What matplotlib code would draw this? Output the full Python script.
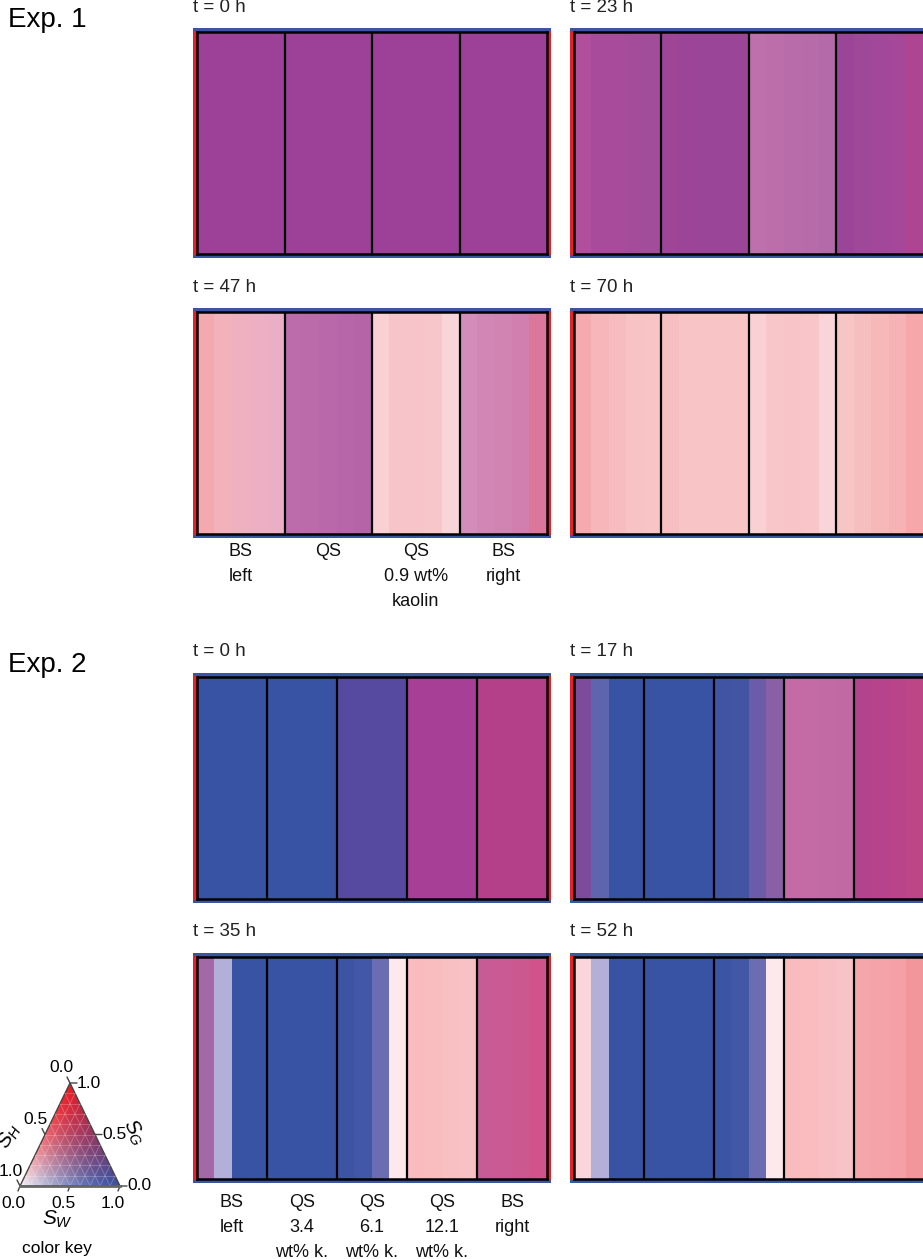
import numpy as np
import matplotlib
matplotlib.use("Agg")
import matplotlib.pyplot as plt
from matplotlib.colors import to_rgb
from matplotlib.patches import Rectangle, Polygon

plt.rcParams['font.family'] = ['Liberation Sans', 'DejaVu Sans']
plt.rcParams['mathtext.fontset'] = 'custom'
plt.rcParams['mathtext.it'] = 'Liberation Sans:italic'
plt.rcParams['mathtext.rm'] = 'Liberation Sans'

W, H = 923, 1259

# ---------------- data: colours of each grid column (20 per panel) ----------------
exp1_titles = ["t = 0 h", "t = 23 h", "t = 47 h", "t = 70 h"]
exp1_labels = ["BS\nleft", "QS", "QS\n0.9 wt%\nkaolin", "BS\nright"]
exp1_t0 = ["#9c4197"] * 20
exp1_t23 = ["#b24f9c", "#a94b9b", "#a64c9b", "#a34c9a", "#a24d9a",
            "#9e4598", "#9c4598", "#9b4598", "#9b4598", "#9b4597",
            "#be70ab", "#bc6eab", "#b96caa", "#b76ba9", "#b46aa8",
            "#9b4598", "#9f4799", "#a2489a", "#a5489a", "#ae4592"]
exp1_t47 = ["#f4a9ae", "#f3b1bc", "#efb0c0", "#edafc3", "#eaaec5",
            "#bd6cab", "#bb6aaa", "#b968aa", "#b767a9", "#b465a8",
            "#f9d0d3", "#f7c5c9", "#f7c5c9", "#f7c6ca", "#f8d5d9",
            "#d48cba", "#d187b5", "#cf84b2", "#d07fae", "#db779b"]
exp1_t70 = ["#f5aab0", "#f6b6ba", "#f7bcbf", "#f8c3c5", "#f8c4c6",
            "#f7bfc1", "#f8c4c6", "#f8c4c6", "#f8c4c6", "#f8c4c6",
            "#f9d0d3", "#f8c6c8", "#f8c4c7", "#f8c6c9", "#f9d5d9",
            "#f8c5c5", "#f7bebf", "#f7b8ba", "#f6b2b4", "#f5a7a9"]

exp2_titles = ["t = 0 h", "t = 17 h", "t = 35 h", "t = 52 h"]
exp2_labels = ["BS\nleft", "QS\n3.4\nwt% k.", "QS\n6.1\nwt% k.", "QS\n12.1\nwt% k.", "BS\nright"]
exp2_t0 = ["#3853a4"] * 8 + ["#554aa0"] * 4 + ["#a63f95"] * 4 + ["#b34088"] * 4
exp2_t17 = ["#7c4b9c", "#5e64ad", "#3853a4", "#3853a4",
            "#3853a4", "#3853a4", "#3853a4", "#3853a4",
            "#3f55a4", "#4155a4", "#6a5ca8", "#8a5fa6",
            "#c46ba5", "#c36ba5", "#c26aa4", "#c069a3",
            "#b4438d", "#b6438b", "#b94489", "#bc4686"]
exp2_t35 = ["#a268a8", "#b2b0d8", "#3853a4", "#3853a4",
            "#3853a4", "#3853a4", "#3853a4", "#3853a4",
            "#3c54a4", "#4257a6", "#6b6db2", "#fde8eb",
            "#f9bbbd", "#f9bcbf", "#f8c0c3", "#f8c1c4",
            "#c75b96", "#c95a94", "#cc5890", "#d0538a"]
exp2_t52 = ["#fad6dc", "#b2b0d8", "#3853a4", "#3853a4",
            "#3853a4", "#3853a4", "#3853a4", "#3853a4",
            "#3c54a4", "#4257a6", "#6a6db2", "#fde8eb",
            "#f9bbbd", "#f9bcbf", "#f8c0c3", "#f8c3c6",
            "#f5a6ab", "#f5a3a8", "#f4a0a6", "#f2969c"]

key_ticks = [0.0, 0.5, 1.0]

# ---------------- helpers ----------------
fig = plt.figure(figsize=(W / 100, H / 100), dpi=100)


def frect(x0, y0, x1, y1):
    return [x0 / W, 1 - y1 / H, (x1 - x0) / W, (y1 - y0) / H]


BLUE = "#3a55a5"
RED = "#e8202a"


def panel(x0, y0, x1, y1, colors, ncomp, title):
    pad = 4
    bg = fig.add_axes(frect(x0 - pad, y0 - pad, x1 + pad, y1 + pad))
    bg.set_facecolor(BLUE)
    bg.set_xticks([]); bg.set_yticks([])
    for s in bg.spines.values():
        s.set_visible(False)
    ow, oh = (x1 - x0 + 2 * pad), (y1 - y0 + 2 * pad)
    for xs in (0, 1 - 4 / ow):
        bg.add_patch(Rectangle((xs, 3 / oh), 4 / ow, 1 - 6 / oh,
                               transform=bg.transAxes, color=RED, lw=0))
    ax = fig.add_axes(frect(x0, y0, x1, y1))
    arr = np.array([[to_rgb(c) for c in colors]])
    n = len(colors)
    ax.imshow(arr, aspect='auto', extent=(0, n, 0, 1), interpolation='nearest')
    per = n // ncomp
    for k in range(1, ncomp):
        ax.axvline(k * per, color='black', lw=1.6)
    ax.set_xlim(0, n); ax.set_ylim(0, 1)
    ax.set_xticks([]); ax.set_yticks([])
    for s in ax.spines.values():
        s.set_color('black'); s.set_linewidth(1.8)
    fig.text((x0 - 4) / W, 1 - (y0 - 25) / H, title, fontsize=13.5,
             ha='left', va='center', color='#222222')
    return ax


def labels(x0, x1, ytop, labs):
    n = len(labs)
    for i, lab in enumerate(labs):
        xc = x0 + (i + 0.5) * (x1 - x0) / n
        fig.text(xc / W, 1 - ytop / H, lab, fontsize=13, ha='center',
                 va='top', linespacing=1.6, color='#111111')


LX0, LX1 = 197, 547
RX0, RX1 = 573.5, 923.5
rows = [(32, 254), (312, 534), (677, 899), (957, 1179)]

panel(LX0, rows[0][0], LX1, rows[0][1], exp1_t0, 4, exp1_titles[0])
panel(RX0, rows[0][0], RX1, rows[0][1], exp1_t23, 4, exp1_titles[1])
panel(LX0, rows[1][0], LX1, rows[1][1], exp1_t47, 4, exp1_titles[2])
panel(RX0, rows[1][0], RX1, rows[1][1], exp1_t70, 4, exp1_titles[3])
labels(LX0, LX1, 543, exp1_labels)

panel(LX0, rows[2][0], LX1, rows[2][1], exp2_t0, 5, exp2_titles[0])
panel(RX0, rows[2][0], RX1, rows[2][1], exp2_t17, 5, exp2_titles[1])
panel(LX0, rows[3][0], LX1, rows[3][1], exp2_t35, 5, exp2_titles[2])
panel(RX0, rows[3][0], RX1, rows[3][1], exp2_t52, 5, exp2_titles[3])
labels(LX0, LX1, 1194, exp2_labels)

fig.text(8 / W, 1 - 20 / H, "Exp. 1", fontsize=20, ha='left', va='center')
fig.text(8 / W, 1 - 665 / H, "Exp. 2", fontsize=20, ha='left', va='center')

# ---------------- colour key (ternary) ----------------
C_G = np.array(to_rgb("#ec1c24"))
C_W = np.array(to_rgb("#3853a4"))
C_H = np.array(to_rgb("#f7f4fa"))


def tern_color(sw, sg, sh):
    tot = np.maximum(sg + sw, 1e-9)[..., None]
    base = (sw[..., None] * C_W + sg[..., None] * C_G) / tot
    t = (sh ** 1.5)[..., None]
    return np.clip(base * (1 - t) + C_H * t, 0, 1)


kax = fig.add_axes(frect(20, 1083, 120, 1186))
kax.set_xlim(0, 1); kax.set_ylim(0, 1)
kax.axis('off')


def pt(sw, sg):
    return sw + 0.5 * sg, sg


N = 300
xx, yy = np.meshgrid(np.linspace(0, 1, N), np.linspace(0, 1, N))
sg = yy
sw = xx - 0.5 * sg
sh = 1 - sg - sw
img = tern_color(np.clip(sw, 0, 1), np.clip(sg, 0, 1), np.clip(sh, 0, 1))
alpha = ((sw >= -0.01) & (sh >= -0.01)).astype(float)
rgba = np.dstack([img, alpha])
tri = Polygon([pt(0, 0), pt(1, 0), pt(0, 1)], closed=True, fc='none',
              ec='#444444', lw=1.0, transform=kax.transData)
kax.add_patch(tri)
im = kax.imshow(rgba, extent=(0, 1, 0, 1), origin='lower', aspect='auto',
                interpolation='bilinear')
im.set_clip_path(tri)
# faint triangular grid
for v in np.arange(0.1, 1.0, 0.1):
    for (a, b) in [((0, v), (1 - v, v)), ((v, 0), (v, 1 - v)), ((v, 0), (0, v))]:
        p1, p2 = pt(*a), pt(*b)
        kax.plot([p1[0], p2[0]], [p1[1], p2[1]], color='white', lw=0.5,
                 alpha=0.3, zorder=3)
kax.plot([0, 1], [0, 0], color='#666666', lw=2.0, zorder=4, clip_on=False)

tick_kw = dict(arrowstyle='-', color='#444444', lw=1.0, shrinkA=0, shrinkB=0)
for v in key_ticks:
    # S_W bottom
    p = pt(v, 0)
    kax.annotate("", xy=p, xytext=(-2, -5), textcoords='offset pixels',
                 arrowprops=tick_kw, annotation_clip=False)
    kax.annotate("%.1f" % v, xy=p, xytext=(-7, -17), textcoords='offset pixels',
                 ha='center', va='center', fontsize=12.5, annotation_clip=False)
    # S_G right side
    p = pt(1 - v, v)
    kax.annotate("", xy=p, xytext=(7, 0), textcoords='offset pixels',
                 arrowprops=tick_kw, annotation_clip=False)
    kax.annotate("%.1f" % v, xy=p, xytext=(7, 0), textcoords='offset pixels',
                 ha='left', va='center', fontsize=12.5, annotation_clip=False)
    # S_H left side
    p = pt(0, 1 - v)
    kax.annotate("", xy=p, xytext=(-3, 6), textcoords='offset pixels',
                 arrowprops=tick_kw, annotation_clip=False)
    kax.annotate("%.1f" % v, xy=p, xytext=(-9, 15), textcoords='offset pixels',
                 ha='center', va='center', fontsize=12.5, annotation_clip=False)

fig.text(57 / W, 1 - 1219 / H, r"$S_W$", fontsize=15, ha='center', va='center')
fig.text(134 / W, 1 - 1132 / H, r"$S_G$", fontsize=15, ha='center', va='center',
         rotation=-60)
fig.text(9 / W, 1 - 1136 / H, r"$S_H$", fontsize=15, ha='center', va='center',
         rotation=60)
fig.text(57 / W, 1 - 1248 / H, "color key", fontsize=12.5, ha='center', va='center')

fig.savefig("out.png", dpi=100)
